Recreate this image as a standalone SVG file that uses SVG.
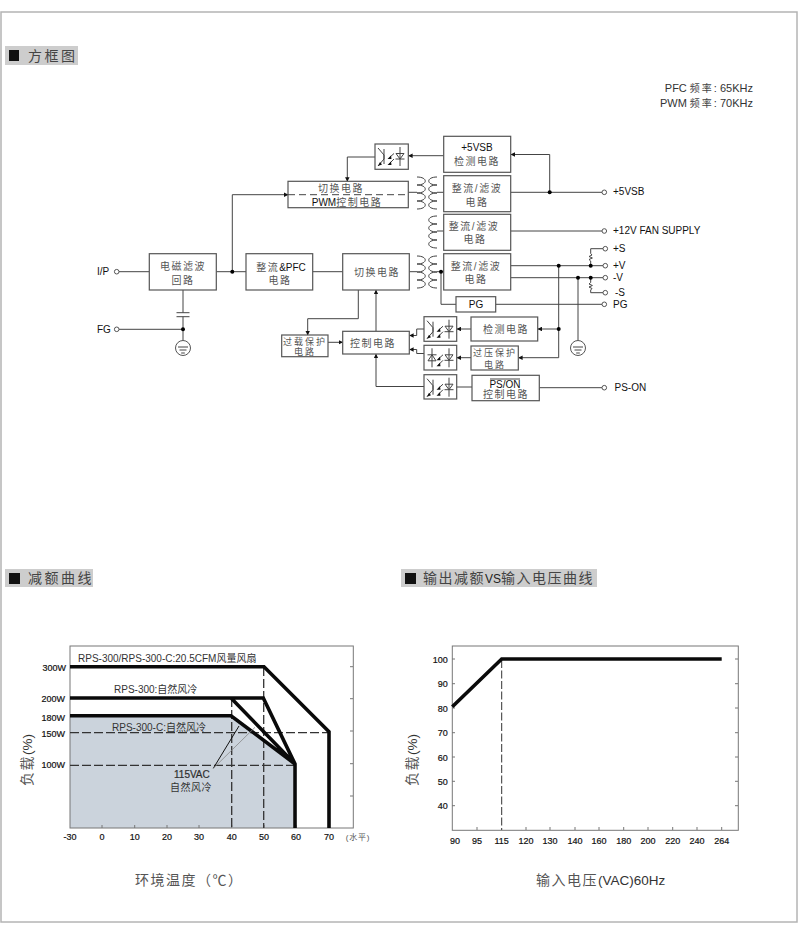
<svg xmlns="http://www.w3.org/2000/svg" width="800" height="939" viewBox="0 0 800 939">
<style>
text{font-family:"Liberation Sans","Noto Sans CJK SC",sans-serif;fill:#222}
.b{fill:#fff;stroke:#555;stroke-width:1.2}
.c{font-size:10px;letter-spacing:1.500px;text-anchor:middle;fill:#555}
.s{font-size:9px;letter-spacing:2px}
.la{letter-spacing:0;fill:#111}
.l{font-size:10px;fill:#111}
.w{fill:none;stroke:#444;stroke-width:1}
.h{fill:#cdcdcd}
.ht{font-size:14px;letter-spacing:2.500px;fill:#444}
.ax{fill:none;stroke:#777;stroke-width:1}
.tk{font-size:9px;text-anchor:middle;fill:#111;stroke:#111;stroke-width:.2}
.yl{font-size:9px;text-anchor:end;fill:#111;stroke:#111;stroke-width:.2}
.th{fill:none;stroke:#0a0a0a;stroke-width:3.6;stroke-linejoin:miter}
.da{fill:none;stroke:#333;stroke-width:1.3;stroke-dasharray:9 3}
.ti{font-size:14px;fill:#555;letter-spacing:1.500px}
.tl{font-size:13.500px;letter-spacing:0;fill:#333}
.lb{font-size:10px;fill:#333}
.fq{font-size:11px;fill:#333;text-anchor:end}
.fc{font-size:10px;letter-spacing:2px;fill:#444}
.dot{fill:#000}
.pin{fill:#fff;stroke:#555;stroke-width:1}
.coil{fill:none;stroke:#444;stroke-width:1}
</style>
<defs>
<marker id="a" viewBox="0 0 6 6" refX="5.500" refY="3" markerWidth="4.500" markerHeight="4.500" orient="auto" markerUnits="userSpaceOnUse"><path d="M0 0L6 3L0 6Z" fill="#111"/></marker>
<g id="led"><path d="M25 3V22M20.500 15H29.500" class="w"/><path d="M21 9.500H29L25 15Z" class="w"/></g>
<g id="inner"><path d="M19 9.500L14.500 13.500M19 15L14.500 19.500" class="w"/><path d="M12.500 15L16 11.500L16.500 15ZM12.500 21L16 17.500L16.500 21Z" fill="#111"/></g>
<g id="photo"><path d="M3 4L9 11V15L3 22M9 5V20" class="w"/><path d="M3 22L7 20.500L5 18Z" fill="#111"/></g>
<g id="led2"><path d="M8 3V22M3.500 9.500H12.500" class="w"/><path d="M4 15.500H12L8 9.500Z" class="w"/></g>
<g id="coilR"><path d="M417 0c11 0 11 8 0 8M417 8c11 0 11 8 0 8M417 16c11 0 11 8 0 8M417 24c11 0 11 8 0 8" class="coil"/></g>
<g id="coilL"><path d="M437 0c-11 0-11 8 0 8M437 8c-11 0-11 8 0 8M437 16c-11 0-11 8 0 8M437 24c-11 0-11 8 0 8" class="coil"/></g>
<g id="gnd"><circle r="7.500" fill="#fff" stroke="#555" stroke-width="1"/><path d="M-5 -1H5M-3.500 2H3.500M-1.800 5H1.800" class="w"/></g>
</defs>

<rect id="frame" x="1" y="12" width="796" height="910" fill="#fff" stroke="#b4b4b4" stroke-width="1.500"/>

<g id="heading-block">
<rect class="h" x="5" y="46" width="73" height="19"/><rect x="9" y="50" width="10" height="11" fill="#111"/>
<text class="ht" x="28" y="61">方框图</text>
</g>
<g id="freq">
<text class="fq" x="753" y="92">PFC <tspan class="fc">频率</tspan>: 65KHz</text>
<text class="fq" x="753" y="107">PWM <tspan class="fc">频率</tspan>: 70KHz</text>
</g>

<g id="connectors">
<path class="w" d="M119 271.700H149.300M216.300 271.700H246M312.700 271.700H342.700M409.300 271.700H417M437 271.700H443.700"/>
<path class="w" marker-end="url(#a)" d="M232.300 271.700V194.700H288"/>
<path class="w" d="M183 290V312.700M176.500 312.700H189.500M176.500 316.700H189.500M183 316.700V340.500M119 329.300H183"/>
<path class="w" marker-end="url(#a)" d="M375 157H347.300V181.300"/>
<path class="w" marker-end="url(#a)" d="M443.700 155.700H408.500"/>
<path class="w" marker-end="url(#a)" d="M549.700 192.300V154.500H510.900"/>
<path class="w" d="M408.300 192.300H417M437 192.300H443.700M510.700 192.300H602"/>
<path class="w" d="M437 231H443.700M510.700 231H602"/>
<path class="w" d="M510.700 265.700H603M510.700 277.700H603"/>
<path class="w" d="M590.700 265.700V261L589 259.500L592.400 258L589 256.500L592 255L590.700 253.500V248.700H603"/>
<path class="w" d="M590.700 277.700V282.500L589 284L592.400 285.500L589 287L592 288.500L590.700 290V292.700H603"/>
<path class="w" d="M441 271.700V304.300H456M495.700 304.300H602"/>
<path class="w" d="M578 277.700V340.500"/>
<path class="w" d="M558.700 265.700V357.700"/>
<path class="w" marker-end="url(#a)" d="M558.700 329H537.900"/>
<path class="w" marker-end="url(#a)" d="M558.700 357.700H518.500"/>
<path class="w" marker-end="url(#a)" d="M471 329H456.900"/>
<path class="w" marker-end="url(#a)" d="M471 357.700H456.900"/>
<path class="w" marker-end="url(#a)" d="M424 329H416.700V335.500H409.500"/>
<path class="w" marker-end="url(#a)" d="M424 353.500H416.700V349.500H409.500"/>
<path class="w" marker-end="url(#a)" d="M358.300 290V318.700H307.700V335"/>
<path class="w" marker-end="url(#a)" d="M328 342.300H342.700"/>
<path class="w" marker-end="url(#a)" d="M376 331.300V290.200"/>
<path class="w" marker-end="url(#a)" d="M424 386.500H376V354.200"/>
<path class="w" d="M456.700 387H472M539.300 387.700H602"/>
<g class="dot"><circle cx="232.300" cy="271.700" r="2"/><circle cx="183" cy="329.300" r="2"/><circle cx="549.700" cy="192.300" r="2"/><circle cx="558.700" cy="265.700" r="2"/><circle cx="590.700" cy="265.700" r="2"/><circle cx="578" cy="277.700" r="2"/><circle cx="590.700" cy="277.700" r="2"/><circle cx="558.700" cy="329" r="2"/><circle cx="441" cy="271.700" r="2"/></g>
</g>

<g id="xf1"><use href="#coilR" y="177"/><use href="#coilL" y="177"/></g>
<g id="xf2"><use href="#coilL" y="216"/></g>
<g id="xf3"><use href="#coilR" y="256"/><use href="#coilL" y="256"/></g>

<g id="n-ip"><text class="l" x="97" y="275">I/P</text><circle class="pin" cx="116.700" cy="271.700" r="2.300"/></g>
<g id="n-fg"><text class="l" x="97" y="333">FG</text><circle class="pin" cx="116.700" cy="329.300" r="2.300"/></g>
<g id="n-gnd1"><use href="#gnd" x="183" y="348"/></g>
<g id="n-gnd2"><use href="#gnd" x="578" y="348"/></g>
<g id="n-emi"><rect class="b" x="149.300" y="253.700" width="67" height="36.300"/><text class="c" x="183" y="270">电磁滤波</text><text class="c" x="183" y="284">回路</text></g>
<g id="n-pfc"><rect class="b" x="246" y="253.700" width="66.700" height="36.300"/><text class="c" x="281" y="271">整流<tspan class="la">&amp;PFC</tspan></text><text class="c" x="280" y="284">电路</text></g>
<g id="n-sw"><rect class="b" x="342.700" y="253.700" width="66.600" height="36.300"/><text class="c" x="377" y="276">切换电路</text></g>
<g id="n-pwm"><rect class="b" x="288" y="181.300" width="120.300" height="26.400"/>
<path d="M288 194.700H408.300" class="w" stroke-dasharray="7 4"/>
<text class="c" x="341" y="192">切换电路</text><text class="c" x="347" y="205.500"><tspan class="la">PWM</tspan>控制电路</text></g>
<g id="n-ol"><rect class="b" x="281.700" y="335" width="46.300" height="21.700"/><text class="c s" x="305" y="345">过载保护</text><text class="c s" x="305" y="355">电路</text></g>
<g id="n-ctl"><rect class="b" x="342.700" y="331.300" width="66.600" height="22.700"/><text class="c" x="373" y="347">控制电路</text></g>
<g id="n-opto1" transform="translate(375 144)"><rect class="b" width="33.300" height="25.300"/><use href="#photo"/><use href="#inner"/><use href="#led"/></g>
<g id="n-optoA" transform="translate(424 316.700)"><rect class="b" width="32.700" height="24.600"/><use href="#photo"/><use href="#inner"/><use href="#led"/></g>
<g id="n-optoB" transform="translate(424 345.300)"><rect class="b" width="32.700" height="24.700"/><use href="#led2"/><use href="#inner"/><use href="#led"/></g>
<g id="n-optoC" transform="translate(424 374.700)"><rect class="b" width="32.700" height="24.300"/><use href="#photo"/><use href="#inner"/><use href="#led"/></g>
<g id="n-5vsb"><rect class="b" x="443.700" y="136.300" width="67" height="36"/><text class="c" x="477" y="151"><tspan class="la">+5VSB</tspan></text><text class="c" x="477" y="164.500">检测电路</text></g>
<g id="n-r1"><rect class="b" x="443.700" y="175.700" width="67" height="36"/><text class="c" x="477" y="192">整流/滤波</text><text class="c" x="477" y="205.500">电路</text></g>
<g id="n-r2"><rect class="b" x="443.700" y="214.300" width="67" height="36"/><text class="c" x="474" y="230">整流/滤波</text><text class="c" x="475" y="243">电路</text></g>
<g id="n-r3"><rect class="b" x="443.700" y="253.700" width="67" height="36.300"/><text class="c" x="476" y="269.500">整流/滤波</text><text class="c" x="476" y="283">电路</text></g>
<g id="n-pg"><rect class="b" x="456" y="296.700" width="39.700" height="15.300"/><text class="c" x="476" y="308"><tspan class="la">PG</tspan></text></g>
<g id="n-det"><rect class="b" x="471" y="317" width="66.700" height="24"/><text class="c" x="506" y="333">检测电路</text></g>
<g id="n-ovp"><rect class="b" x="471" y="346" width="47.300" height="24"/><text class="c s" x="495" y="356">过压保护</text><text class="c s" x="495" y="368">电路</text></g>
<g id="n-pson"><rect class="b" x="472" y="375.300" width="67.300" height="25.400"/><text class="c" x="505" y="387.500"><tspan class="la">PS/ON</tspan></text><path d="M490 379H520" class="w"/><text class="c" x="506" y="398">控制电路</text></g>
<g id="outs">
<circle class="pin" cx="604.300" cy="192.300" r="2.300"/><text class="l" x="613" y="195">+5VSB</text>
<circle class="pin" cx="604.300" cy="231" r="2.300"/><text class="l" x="613" y="233.500">+12V FAN SUPPLY</text>
<circle class="pin" cx="605.300" cy="248.700" r="2.300"/><text class="l" x="613" y="252">+S</text>
<circle class="pin" cx="605.300" cy="265.700" r="2.300"/><text class="l" x="613" y="269">+V</text>
<circle class="pin" cx="605.300" cy="277.700" r="2.300"/><text class="l" x="613" y="281">-V</text>
<circle class="pin" cx="605.300" cy="292.700" r="2.300"/><text class="l" x="615" y="296">-S</text>
<circle class="pin" cx="604.300" cy="304.300" r="2.300"/><text class="l" x="613" y="308">PG</text>
<circle class="pin" cx="604.300" cy="387.700" r="2.300"/><text class="l" x="614.500" y="391">PS-ON</text>
</g>

<g id="heading-derate">
<rect class="h" x="5" y="569" width="88" height="18"/><rect x="9" y="573" width="11" height="11" fill="#111"/>
<text class="ht" x="28" y="583">减额曲线</text>
</g>
<g id="heading-vin">
<rect class="h" x="401" y="569" width="196" height="18"/><rect x="405" y="573" width="11" height="11" fill="#111"/>
<text class="ht" x="423" y="583" style="letter-spacing:1.500px">输出减额<tspan style="font-size:12px;letter-spacing:0;fill:#222">VS</tspan>输入电压曲线</text>
</g>

<g id="chart1">
<path d="M70 717H231L293 764V828H70Z" fill="#cbd3dc"/>
<rect class="ax" x="70" y="646" width="283.300" height="182"/>
<path class="ax" d="M353 666.700h-3M353 698.700h-3M353 731h-3M353 763.700h-3M353 796h-3M102 828v-3M134.700 828v-3M167 828v-3M199 828v-3M231.700 828v-3M264 828v-3M296 828v-3M329 828v-3"/>
<path class="da" d="M231.700 698V828M263.700 667V828M70 732.700H329M70 765.300H295"/>
<path class="th" d="M70 666.700H264L329 731.700V828M70 698H263.300L295 764V828M231 698L295 764M70 715.700H231L295 764"/>
<path d="M213.300 768.300L239 726" stroke="#111" stroke-width="1" fill="none"/>
<path d="M213.300 768.300L255 727.300" stroke="#888" stroke-width="0.800" fill="none"/>
<text class="yl" x="66" y="671">300W</text><text class="yl" x="65" y="702">200W</text><text class="yl" x="65" y="721">180W</text><text class="yl" x="65" y="737">150W</text><text class="yl" x="65" y="768">100W</text>
<text class="lb" x="78" y="662">RPS-300/RPS-300-C:20.5CFM风量风扇</text>
<text class="lb" x="114" y="693">RPS-300:自然风冷</text>
<text class="lb" x="112" y="731">RPS-300-C:自然风冷</text>
<text class="lb" x="174" y="778" style="stroke:#222;stroke-width:.2">115VAC</text>
<text class="lb" x="170" y="791" style="letter-spacing:0.500px">自然风冷</text>
<text class="tk" x="70" y="840">-30</text><text class="tk" x="102" y="840">0</text><text class="tk" x="134.700" y="840">10</text><text class="tk" x="167" y="840">20</text><text class="tk" x="199" y="840">30</text><text class="tk" x="231.700" y="840">40</text><text class="tk" x="264" y="840">50</text><text class="tk" x="296" y="840">60</text><text class="tk" x="329" y="840">70</text>
<text class="tk" x="358" y="840" style="font-size:8px;letter-spacing:0.800px;stroke:none;fill:#555">(水平)</text>
<text class="ti" transform="translate(32 760) rotate(-90)" text-anchor="middle">负载<tspan class="tl">(%)</tspan></text>
<text class="ti" x="135" y="885">环境温度（℃）</text>
</g>

<g id="chart2">
<rect class="ax" x="452.300" y="646" width="286" height="184.300"/>
<path class="ax" d="M452 659h3M452 683.700h3M452 708h3M452 732.700h3M452 757h3M452 781.300h3M452 805.700h3M738 659h-3M738 683.700h-3M738 708h-3M738 732.700h-3M738 757h-3M738 781.300h-3M738 805.700h-3M477 830v-3M526 830v-3M550 830v-3M575 830v-3M599 830v-3M623.700 830v-3M648 830v-3M672.700 830v-3M697 830v-3M721.700 830v-3"/>
<path d="M501.700 660V830" class="da" style="stroke-width:1;stroke-dasharray:8 2.500"/>
<path class="th" d="M452.300 706.700L501.700 659H721.700"/>
<text class="yl" x="447.700" y="663">100</text><text class="yl" x="447.700" y="687">90</text><text class="yl" x="447.700" y="712">80</text><text class="yl" x="447.700" y="736">70</text><text class="yl" x="447.700" y="761">60</text><text class="yl" x="447.700" y="785">50</text><text class="yl" x="447.700" y="809">40</text>
<text class="tk" x="455" y="844">90</text><text class="tk" x="477" y="844">95</text><text class="tk" x="501.700" y="844">115</text><text class="tk" x="526" y="844">120</text><text class="tk" x="550" y="844">130</text><text class="tk" x="575" y="844">140</text><text class="tk" x="599" y="844">160</text><text class="tk" x="623.700" y="844">180</text><text class="tk" x="648" y="844">200</text><text class="tk" x="672.700" y="844">220</text><text class="tk" x="697" y="844">240</text><text class="tk" x="721.700" y="844">264</text>
<text class="ti" transform="translate(417 760) rotate(-90)" text-anchor="middle">负载<tspan class="tl">(%)</tspan></text>
<text class="ti" x="536" y="885">输入电压<tspan class="tl">(VAC)60Hz</tspan></text>
</g>
</svg>
